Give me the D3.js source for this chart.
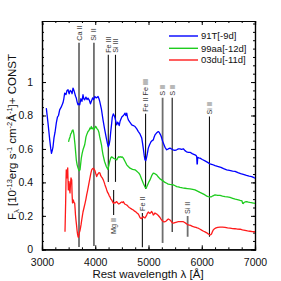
<!DOCTYPE html>
<meta charset="utf-8">
<body style="margin:0;background:#fff">
<div id="chart"></div>
<script src="https://cdn.jsdelivr.net/npm/d3@7"></script>
<script>
// spectra: [rest wavelength (A), flux + const]
var sn91T = [[3081,0.844],[3113,0.754],[3145,0.654],[3165,0.60],[3178,0.574],[3192,0.59],[3207,0.613],[3225,0.666],[3245,0.70],[3269,0.756],[3290,0.79],[3310,0.80],[3332,0.834],[3360,0.85],[3394,0.876],[3410,0.90],[3426,0.934],[3450,0.925],[3470,0.95],[3488,0.954],[3510,0.93],[3530,0.95],[3550,0.944],[3565,0.93],[3582,0.964],[3600,0.95],[3614,0.934],[3630,0.915],[3644,0.904],[3660,0.88],[3676,0.864],[3692,0.87],[3708,0.864],[3730,0.90],[3750,0.885],[3770,0.924],[3785,0.90],[3802,0.894],[3825,0.91],[3845,0.895],[3864,0.904],[3890,0.89],[3910,0.87],[3926,0.884],[3950,0.905],[3970,0.895],[3990,0.914],[4020,0.905],[4052,0.914],[4070,0.90],[4084,0.884],[4115,0.84],[4146,0.774],[4175,0.72],[4208,0.665],[4230,0.63],[4245,0.613],[4260,0.625],[4277,0.655],[4290,0.70],[4305,0.744],[4320,0.79],[4339,0.810],[4355,0.80],[4371,0.786],[4390,0.76],[4403,0.744],[4420,0.76],[4433,0.754],[4450,0.74],[4465,0.764],[4485,0.78],[4502,0.792],[4530,0.80],[4559,0.814],[4575,0.80],[4591,0.814],[4605,0.79],[4621,0.774],[4650,0.76],[4685,0.744],[4715,0.74],[4747,0.734],[4780,0.72],[4809,0.704],[4840,0.69],[4873,0.665],[4890,0.63],[4906,0.595],[4920,0.56],[4934,0.535],[4948,0.53],[4962,0.547],[4980,0.575],[4996,0.605],[5020,0.625],[5047,0.643],[5070,0.65],[5090,0.654],[5105,0.67],[5122,0.684],[5150,0.695],[5184,0.704],[5200,0.70],[5216,0.690],[5232,0.68],[5248,0.665],[5262,0.65],[5278,0.635],[5310,0.61],[5342,0.595],[5370,0.60],[5404,0.605],[5430,0.60],[5460,0.595],[5495,0.592],[5530,0.595],[5560,0.60],[5592,0.601],[5620,0.598],[5654,0.601],[5685,0.59],[5714,0.583],[5750,0.58],[5780,0.580],[5820,0.572],[5850,0.568],[5873,0.565],[5895,0.56],[5905,0.555],[5912,0.51],[5917,0.511],[5924,0.55],[5945,0.547],[5967,0.545],[6010,0.537],[6061,0.529],[6110,0.52],[6155,0.511],[6200,0.507],[6250,0.50],[6311,0.495],[6360,0.49],[6410,0.482],[6469,0.475],[6520,0.472],[6580,0.468],[6625,0.466],[6680,0.458],[6730,0.452],[6780,0.448],[6840,0.442],[6890,0.438],[6938,0.435],[6970,0.43],[7000,0.425]];

var sn99aa = [[3498,0.642],[3512,0.66],[3526,0.672],[3540,0.69],[3554,0.696],[3568,0.71],[3582,0.714],[3592,0.70],[3601,0.684],[3610,0.655],[3620,0.625],[3632,0.58],[3644,0.535],[3660,0.505],[3676,0.487],[3695,0.469],[3714,0.475],[3726,0.51],[3738,0.545],[3755,0.575],[3770,0.595],[3786,0.61],[3802,0.625],[3815,0.65],[3826,0.672],[3845,0.69],[3864,0.704],[3882,0.71],[3901,0.725],[3915,0.72],[3926,0.734],[3942,0.72],[3958,0.726],[3975,0.715],[3990,0.725],[4002,0.735],[4014,0.732],[4035,0.72],[4052,0.714],[4068,0.70],[4084,0.672],[4100,0.65],[4117,0.625],[4130,0.595],[4146,0.565],[4175,0.525],[4208,0.495],[4225,0.485],[4239,0.478],[4255,0.50],[4271,0.525],[4290,0.545],[4305,0.553],[4322,0.55],[4339,0.545],[4370,0.54],[4403,0.535],[4420,0.545],[4437,0.553],[4450,0.55],[4465,0.554],[4485,0.55],[4502,0.553],[4515,0.55],[4527,0.545],[4560,0.525],[4591,0.505],[4620,0.495],[4653,0.485],[4700,0.478],[4747,0.475],[4775,0.468],[4803,0.460],[4820,0.455],[4840,0.445],[4870,0.42],[4902,0.395],[4930,0.375],[4953,0.364],[4970,0.375],[4990,0.391],[5010,0.405],[5028,0.415],[5060,0.44],[5090,0.455],[5120,0.452],[5154,0.445],[5185,0.432],[5216,0.421],[5245,0.415],[5272,0.409],[5310,0.40],[5342,0.395],[5370,0.39],[5404,0.388],[5435,0.387],[5466,0.385],[5500,0.38],[5530,0.375],[5560,0.373],[5592,0.370],[5640,0.367],[5685,0.365],[5730,0.363],[5780,0.361],[5830,0.358],[5873,0.355],[5920,0.348],[5967,0.340],[6015,0.333],[6061,0.325],[6095,0.318],[6123,0.315],[6150,0.313],[6174,0.313],[6210,0.32],[6249,0.325],[6300,0.323],[6343,0.322],[6390,0.318],[6437,0.315],[6480,0.313],[6531,0.310],[6580,0.305],[6630,0.30],[6687,0.295],[6720,0.292],[6756,0.289],[6768,0.275],[6780,0.274],[6795,0.28],[6812,0.283],[6844,0.285],[6875,0.282],[6906,0.280],[6950,0.278],[7000,0.275]];

var sn03du = [[3432,0.105],[3440,0.22],[3445,0.295],[3450,0.40],[3456,0.475],[3463,0.44],[3470,0.427],[3476,0.46],[3483,0.487],[3489,0.41],[3494,0.355],[3500,0.39],[3507,0.405],[3516,0.36],[3526,0.337],[3535,0.39],[3545,0.427],[3552,0.42],[3558,0.415],[3565,0.33],[3573,0.277],[3580,0.29],[3588,0.295],[3600,0.28],[3614,0.275],[3622,0.24],[3629,0.205],[3638,0.175],[3648,0.146],[3658,0.115],[3667,0.092],[3675,0.078],[3682,0.071],[3690,0.08],[3700,0.098],[3712,0.11],[3723,0.128],[3735,0.15],[3746,0.175],[3758,0.20],[3770,0.223],[3790,0.25],[3808,0.275],[3825,0.30],[3839,0.325],[3855,0.35],[3870,0.375],[3885,0.40],[3901,0.427],[3918,0.455],[3933,0.475],[3950,0.482],[3963,0.485],[3980,0.478],[3995,0.469],[4012,0.45],[4027,0.435],[4040,0.445],[4052,0.451],[4070,0.458],[4089,0.455],[4103,0.44],[4117,0.433],[4135,0.425],[4151,0.415],[4168,0.40],[4183,0.385],[4200,0.37],[4215,0.355],[4232,0.34],[4249,0.331],[4263,0.32],[4277,0.313],[4293,0.30],[4309,0.295],[4325,0.285],[4339,0.275],[4355,0.28],[4371,0.277],[4388,0.282],[4403,0.285],[4420,0.278],[4437,0.271],[4450,0.272],[4465,0.275],[4480,0.28],[4497,0.283],[4512,0.28],[4527,0.285],[4540,0.278],[4553,0.271],[4572,0.268],[4591,0.265],[4606,0.26],[4621,0.255],[4637,0.25],[4653,0.247],[4685,0.24],[4715,0.235],[4740,0.228],[4765,0.223],[4790,0.215],[4809,0.211],[4825,0.20],[4840,0.190],[4855,0.185],[4869,0.184],[4885,0.19],[4902,0.195],[4918,0.19],[4934,0.187],[4950,0.195],[4966,0.205],[4980,0.215],[4996,0.223],[5012,0.218],[5028,0.215],[5045,0.22],[5060,0.226],[5075,0.218],[5090,0.205],[5106,0.21],[5122,0.217],[5138,0.213],[5154,0.211],[5170,0.206],[5184,0.202],[5200,0.196],[5216,0.190],[5232,0.182],[5248,0.175],[5262,0.17],[5278,0.166],[5295,0.164],[5310,0.165],[5326,0.168],[5342,0.172],[5357,0.178],[5372,0.181],[5388,0.178],[5404,0.175],[5420,0.17],[5435,0.163],[5450,0.158],[5466,0.156],[5482,0.158],[5497,0.160],[5530,0.163],[5560,0.165],[5585,0.166],[5610,0.166],[5632,0.166],[5654,0.165],[5680,0.16],[5704,0.155],[5725,0.15],[5747,0.146],[5768,0.145],[5789,0.143],[5815,0.139],[5841,0.135],[5866,0.133],[5892,0.131],[5915,0.128],[5935,0.126],[5970,0.12],[6005,0.113],[6035,0.108],[6061,0.104],[6085,0.10],[6108,0.095],[6130,0.09],[6155,0.086],[6170,0.088],[6183,0.092],[6200,0.105],[6217,0.116],[6240,0.123],[6268,0.128],[6300,0.131],[6343,0.132],[6390,0.132],[6437,0.131],[6485,0.128],[6531,0.126],[6580,0.124],[6625,0.123],[6670,0.121],[6719,0.120],[6765,0.116],[6812,0.113],[6860,0.11],[6906,0.108],[6950,0.106],[7000,0.105]];

var seriesNames = ["91T[-9d]", "99aa[-12d]", "03du[-11d]"];
var seriesColors = ["#0000ff", "#1ecc1e", "#ff1a1a"];

// line identifications: label, wavelength, top and bottom flux, label above or below
var lineLabels = ["Ca II", "Si II", "Fe III", "Si III", "Fe II Fe III", "S II", "S II", "Si II", "Mg II", "Fe II", "Si II"];
var lineWave = [3695, 3975, 4245, 4380, 4945, 5265, 5445, 6145, 4345, 4885, 5735];
var lineTop = [1.235, 1.235, 1.163, 1.163, 0.81, 0.906, 0.906, 0.794, 0.355, 0.217, 0.199];
var lineBottom = [0.014, 0.02, 0.403, 0.403, 0.361, 0.038, 0.104, 0.075, 0.205, 0.012, 0.075];
var lineGray = [true, true, false, false, false, true, false, false, false, false, true];
var lineBelow = [false, false, false, false, false, false, false, false, true, false, false];

var xTicks = [3000, 4000, 5000, 6000, 7000];
var yTicks = [0, 0.2, 0.4, 0.6, 0.8, 1];

var W = 281, H = 281;
var mLeft = 42, mRight = 255, mTop = 21, mBottom = 249.3;

var svg = d3.select("#chart").append("svg")
    .attr("width", W).attr("height", H)
    .style("font-family", "Liberation Sans, Arial, sans-serif");

var x = d3.scaleLinear().domain([3000, 7000]).range([mLeft, mRight]);
var y = d3.scaleLinear().domain([0, 1.365]).range([mBottom, mTop]);

var minorX = d3.range(3000, 7001, 250);
var minorY = d3.range(0, 1.36, 0.05);

// axes, ticks pointing inwards
svg.append("g").attr("transform", "translate(0," + mBottom + ")")
    .call(d3.axisBottom(x).tickValues(minorX).tickSize(-2).tickFormat(""));
svg.append("g").attr("transform", "translate(0," + mBottom + ")")
    .call(d3.axisBottom(x).tickValues(xTicks).tickSize(-4).tickPadding(9).tickFormat(d3.format("d")));
svg.append("g").attr("transform", "translate(0," + mTop + ")")
    .call(d3.axisTop(x).tickValues(minorX).tickSize(-2).tickFormat(""));
svg.append("g").attr("transform", "translate(0," + mTop + ")")
    .call(d3.axisTop(x).tickValues(xTicks).tickSize(-4).tickFormat(""));
svg.append("g").attr("transform", "translate(" + mLeft + ",0)")
    .call(d3.axisLeft(y).tickValues(minorY).tickSize(-2).tickFormat(""));
svg.append("g").attr("transform", "translate(" + mLeft + ",0)")
    .call(d3.axisLeft(y).tickValues(yTicks).tickSize(-4).tickPadding(9).tickFormat(function(d) { return d === 0 || d === 1 ? d : d.toFixed(1); }));
svg.append("g").attr("transform", "translate(" + mRight + ",0)")
    .call(d3.axisRight(y).tickValues(minorY).tickSize(-2).tickFormat(""));
svg.append("g").attr("transform", "translate(" + mRight + ",0)")
    .call(d3.axisRight(y).tickValues(yTicks).tickSize(-4).tickFormat(""));

svg.selectAll(".domain").attr("stroke", "#000").attr("stroke-width", 1.2);
svg.selectAll(".tick line").attr("stroke", "#000");
svg.selectAll(".tick text").attr("font-size", 10.5).attr("fill", "#111")
    .attr("font-family", "Liberation Sans, Arial, sans-serif");

// line markers
var marks = svg.append("g");
lineLabels.forEach(function(lab, i) {
    var lx = x(lineWave[i]);
    marks.append("line")
        .attr("x1", lx).attr("x2", lx)
        .attr("y1", y(lineTop[i])).attr("y2", y(lineBottom[i]))
        .attr("stroke", lineGray[i] ? "#6e6e6e" : "#111")
        .attr("stroke-width", lineGray[i] ? 1.8 : 1.1);
    var ty = lineBelow[i] ? y(lineBottom[i]) + 3 : y(lineTop[i]) - 2;
    marks.append("text")
        .attr("transform", "translate(" + lx + "," + ty + ") rotate(-90)")
        .attr("dy", "0.35em")
        .attr("text-anchor", lineBelow[i] ? "end" : "start")
        .attr("font-size", 7.2)
        .attr("fill", "#333")
        .text(lab);
});

// spectra
var line = d3.line().x(function(d) { return x(d[0]); }).y(function(d) { return y(d[1]); });
[sn91T, sn99aa, sn03du].forEach(function(s, i) {
    svg.append("path").datum(s)
        .attr("d", line)
        .attr("fill", "none")
        .attr("stroke", seriesColors[i])
        .attr("stroke-width", 1.3)
        .attr("stroke-linejoin", "round");
});

// legend
var legY = [36, 48.3, 60];
seriesNames.forEach(function(n, i) {
    svg.append("line")
        .attr("x1", 169).attr("x2", 198)
        .attr("y1", legY[i]).attr("y2", legY[i])
        .attr("stroke", seriesColors[i]).attr("stroke-width", 1.4);
    svg.append("text")
        .attr("x", 201).attr("y", legY[i]).attr("dy", "0.35em")
        .attr("font-size", 9.5).attr("fill", "#111")
        .text(n);
});

// axis labels
svg.append("text")
    .attr("x", 148).attr("y", 278)
    .attr("text-anchor", "middle").attr("font-size", 11.5).attr("fill", "#111")
    .text("Rest wavelength  \u03bb  [\u00c5]");

var yl = svg.append("text")
    .attr("transform", "translate(16,137) rotate(-90)")
    .attr("text-anchor", "middle").attr("font-size", 11.5).attr("fill", "#111");
yl.append("tspan").text("F");
yl.append("tspan").attr("font-size", 7.5).attr("dy", 3).text("\u03bb");
yl.append("tspan").attr("dy", -3).text(" [10");
yl.append("tspan").attr("font-size", 7.5).attr("dy", -4).text("-13");
yl.append("tspan").attr("dy", 4).text("erg s");
yl.append("tspan").attr("font-size", 7.5).attr("dy", -4).text("-1");
yl.append("tspan").attr("dy", 4).text(" cm");
yl.append("tspan").attr("font-size", 7.5).attr("dy", -4).text("-2");
yl.append("tspan").attr("dy", 4).text("\u00c5");
yl.append("tspan").attr("font-size", 7.5).attr("dy", -4).text("-1");
yl.append("tspan").attr("dy", 4).text("]+ CONST");
</script>
</body>
